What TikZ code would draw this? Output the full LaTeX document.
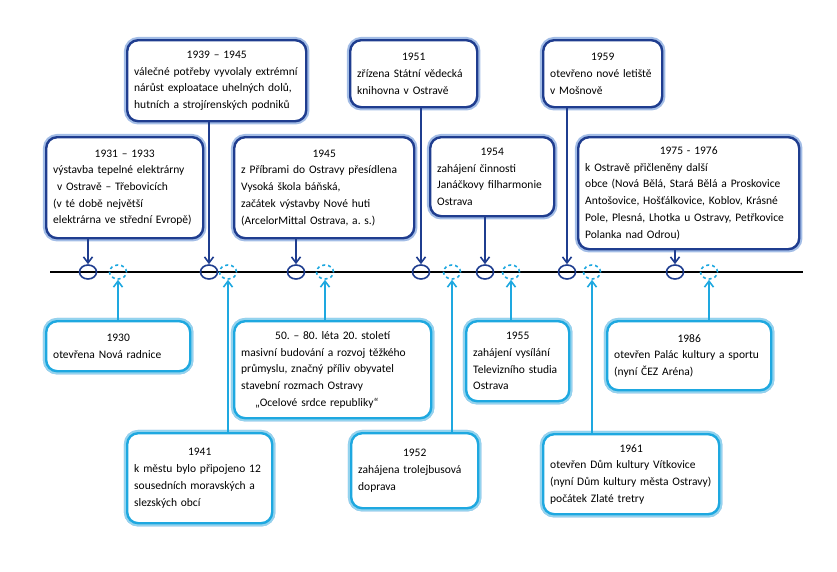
\documentclass[tikz,border=0pt]{standalone}
\usepackage{fontspec}
\setmainfont{Carlito}
\frenchspacing
\usetikzlibrary{arrows.meta,shapes.geometric}

\definecolor{navyline}{HTML}{1F3D8F}
\definecolor{navyglow}{HTML}{A3BDE6}
\definecolor{cyanline}{HTML}{1EA8E0}
\definecolor{cyanglow}{HTML}{93D3EE}

\begin{document}
\begin{tikzpicture}[
			x=1pt,y=-1pt,
			>={Straight Barb[length=6pt,width=9pt]},
			topbox/.style={
				draw=navyline,
				line width=2.4pt,
				rounded corners=11pt,
				fill=white,
				preaction={draw=navyglow,line width=6.5pt},
				anchor=north west,
				align=left,
				inner xsep=7pt,
				font=\fontsize{11.5}{16.7}\selectfont
			},
			botbox/.style={
				topbox,
				draw=cyanline,
				preaction={draw=cyanglow,line width=6.5pt}
			},
			topmark/.style={
				ellipse,
				draw=navyline,
				line width=1.6pt,
				minimum width=17pt,
				minimum height=14pt,
				inner sep=0pt
			},
			botmark/.style={
				topmark,
				draw=cyanline,
				dashed
			},
			toparrow/.style={->,draw=navyline,line width=1.6pt},
			botarrow/.style={->,draw=cyanline,line width=1.6pt}
			]
			
			\useasboundingbox (0,0) rectangle (837,571);
			
			%%%%%%%%%%%%%%%%%%%%%%%%%%%%%%%%%%%%%%%%%%%%%%%%%%%%%%%%%%%%
			% Time Axis
			%%%%%%%%%%%%%%%%%%%%%%%%%%%%%%%%%%%%%%%%%%%%%%%%%%%%%%%%%%%%
			
			\coordinate (start) at (50,272);
			\coordinate (end) at (803,272);
			
			\draw[line width=2.4pt] (start) -- (end);
			
			% marks above
			
			\node[topmark] (m1931) at (88,272) {};
			\node[topmark] (m1939) at (209,272) {};
			\node[topmark] (m1945) at (296,272) {};
			\node[topmark] (m1951) at (421,272) {};
			\node[topmark] (m1954) at (485,272) {};
			\node[topmark] (m1959) at (567,272) {};
			\node[topmark] (m1975) at (675,272) {};
			
			% marks below
			
			\node[botmark] (m1930) at (118,272) {};
			\node[botmark] (m1941) at (228,272) {};
			\node[botmark] (m1950) at (325,272) {};
			\node[botmark] (m1952) at (452,272) {};
			\node[botmark] (m1955) at (511,272) {};
			\node[botmark] (m1961) at (592,272) {};
			\node[botmark] (m1986) at (709,272) {};
			
			%%%%%%%%%%%%%%%%%%%%%%%%%%%%%%%%%%%%%%%%%%%%%%%%%%%%%%%%%%%%
			% Upper Boxes
			%%%%%%%%%%%%%%%%%%%%%%%%%%%%%%%%%%%%%%%%%%%%%%%%%%%%%%%%%%%%
			
			\node[topbox,minimum width=157,minimum height=101,text width=143pt] (b1931) at (45,136)
			{{\centering 1931 -- 1933\par}výstavba tepelné elektrárny\\
				\ v Ostravě -- Třebovicích\\(v té době největší\\elektrárna ve střední Evropě)};
			
			\node[topbox,minimum width=179,minimum height=81,text width=165pt] (b1939) at (126,39)
			{{\centering 1939 -- 1945\par}válečné potřeby vyvolaly extrémní\\
				nárůst exploatace uhelných dolů,\\hutních a strojírenských podniků};
			
			\node[topbox,minimum width=180,minimum height=101,text width=166pt] (b1945) at (233,136)
			{{\centering 1945\par}z Příbrami do Ostravy přesídlena\\
				Vysoká škola báňská,\\začátek výstavby Nové huti\\(ArcelorMittal Ostrava, a. s.)};
			
			\node[topbox,minimum width=127,minimum height=67,text width=113pt] (b1951) at (349,39)
			{{\centering 1951\par}zřízena Státní vědecká\\knihovna v Ostravě};
			
			\node[topbox,minimum width=124,minimum height=79,text width=110pt] (b1954) at (429,136)
			{{\centering 1954\par}zahájení činnosti\\Janáčkovy filharmonie\\Ostrava};
			
			\node[topbox,minimum width=119,minimum height=67,text width=105pt] (b1959) at (542,39)
			{{\centering 1959\par}otevřeno nové letiště\\v Mošnově};
			
			\node[topbox,minimum width=221,minimum height=112,text width=207pt] (b1975) at (577,136)
			{{\centering 1975 - 1976\par}k Ostravě přičleněny další\\
				obce (Nová Bělá, Stará Bělá a Proskovice\\Antošovice, Hošťálkovice, Koblov, Krásné\\
				Pole, Plesná, Lhotka u Ostravy, Petřkovice\\Polanka nad Odrou)};
			
			%%%%%%%%%%%%%%%%%%%%%%%%%%%%%%%%%%%%%%%%%%%%%%%%%%%%%%%%%%%%
			% Lower Boxes
			%%%%%%%%%%%%%%%%%%%%%%%%%%%%%%%%%%%%%%%%%%%%%%%%%%%%%%%%%%%%
			
			\node[botbox,minimum width=144,minimum height=50,text width=130pt] (b1930) at (45,320)
			{{\centering 1930\par}otevřena Nová radnice};
			
			\node[botbox,minimum width=197,minimum height=97,text width=183pt] (b1950) at (233,320)
			{{\centering 50. -- 80. léta 20. století\par}masivní budování a rozvoj těžkého\\
				průmyslu, značný příliv obyvatel\\stavební rozmach Ostravy\\
				\hspace*{14pt}„Ocelové srdce republiky“};
			
			\node[botbox,minimum width=145,minimum height=90,text width=131pt] (b1941) at (126,432)
			{{\centering 1941\par}k městu bylo připojeno 12\\sousedních moravských a\\slezských obcí};
			
			\node[botbox,minimum width=127,minimum height=75,text width=113pt] (b1952) at (350,432)
			{{\centering 1952\par}zahájena trolejbusová\\doprava};
			
			\node[botbox,minimum width=103,minimum height=80,text width=89pt] (b1955) at (465,320)
			{{\centering 1955\par}zahájení vysílání\\Televizního studia\\Ostrava};
			
			\node[botbox,minimum width=164,minimum height=69,text width=150pt] (b1986) at (606,320)
			{{\centering 1986\par}otevřen Palác kultury a sportu\\(nyní ČEZ Aréna)};
			
			\node[botbox,minimum width=176,minimum height=80,text width=162pt] (b1961) at (542,433)
			{{\centering 1961\par}otevřen Dům kultury Vítkovice\\
				(nyní Dům kultury města Ostravy)\\počátek Zlaté tretry};
			
			%%%%%%%%%%%%%%%%%%%%%%%%%%%%%%%%%%%%%%%%%%%%%%%%%%%%%%%%%%%%
			% Connections
			%%%%%%%%%%%%%%%%%%%%%%%%%%%%%%%%%%%%%%%%%%%%%%%%%%%%%%%%%%%%
			
			% upper boxes to axis
			
			\draw[toparrow] (m1931 |- b1931.south) -- (m1931.north);
			\draw[toparrow] (m1939 |- b1939.south) -- (m1939.north);
			\draw[toparrow] (m1945 |- b1945.south) -- (m1945.north);
			\draw[toparrow] (m1951 |- b1951.south) -- (m1951.north);
			\draw[toparrow] (m1954 |- b1954.south) -- (m1954.north);
			\draw[toparrow] (m1959 |- b1959.south) -- (m1959.north);
			\draw[toparrow] (m1975 |- b1975.south) -- (m1975.north);
			
			% lower boxes to axis
			
			\draw[botarrow] (m1930 |- b1930.north) -- (m1930.south);
			\draw[botarrow] (m1941 |- b1941.north) -- (m1941.south);
			\draw[botarrow] (m1950 |- b1950.north) -- (m1950.south);
			\draw[botarrow] (m1952 |- b1952.north) -- (m1952.south);
			\draw[botarrow] (m1955 |- b1955.north) -- (m1955.south);
			\draw[botarrow] (m1961 |- b1961.north) -- (m1961.south);
			\draw[botarrow] (m1986 |- b1986.north) -- (m1986.south);
			
			%%%%%%%%%%%%%%%%%%%%%%%%%%%%%%%%%%%%%%%%%%%%%%%%%%%%%%%%%%%%
			
		\end{tikzpicture}
\end{document}
